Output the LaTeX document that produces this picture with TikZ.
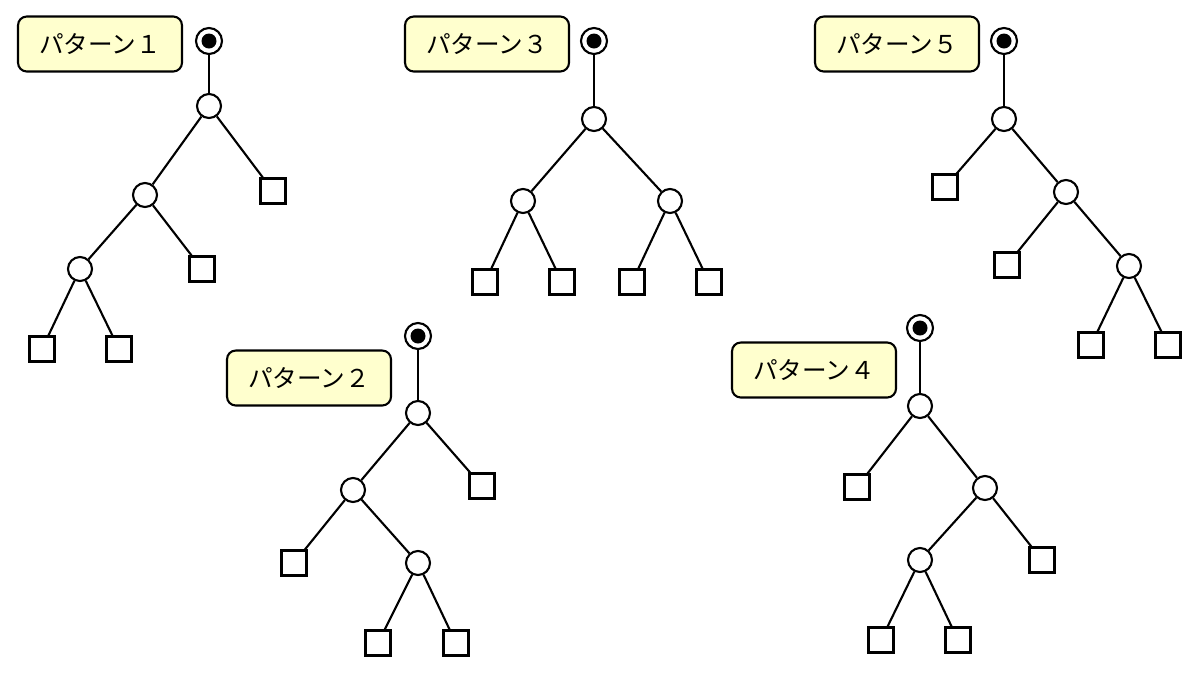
\documentclass[tikz,border=0pt]{standalone}
\usepackage{fontspec}
\setmainfont{Noto Sans CJK JP}
\definecolor{notefill}{RGB}{255,255,206}

\begin{document}
\begin{tikzpicture}[
        x=0.02cm, y=-0.02cm,
        every path/.style={line width=1.2pt},
        inner/.style={circle, draw, fill=white, minimum size=0.48cm, inner sep=0pt},
        leaf/.style={rectangle, draw, fill=white, minimum size=0.5cm, inner sep=0pt},
        root/.style={circle, draw, fill=white, minimum size=0.52cm, inner sep=0pt,
            path picture={\fill[black] (path picture bounding box.center) circle (0.15cm);}},
        pattern/.style={rectangle, draw, fill=notefill, rounded corners=5pt, line width=1.2pt,
            minimum width=3.28cm, minimum height=1.1cm, font=\fontsize{14pt}{16pt}\selectfont}
    ]
    \useasboundingbox (0,0) rectangle (1200,674);

    % pattern 1
    \node (label1) [pattern] at (100,44) {パターン１};
    \node (root1) [root] at (209,41) {};
    \node (a1) [inner] at (209,106) {};
    \node (b1) [inner] at (145,195) {};
    \node (c1) [leaf] at (273,191) {};
    \node (d1) [inner] at (80,269) {};
    \node (e1) [leaf] at (202,269) {};
    \node (f1) [leaf] at (42,349) {};
    \node (g1) [leaf] at (119,349) {};
    \draw (root1) -- (a1);
    \draw (a1) -- (b1);
    \draw (a1) -- (c1);
    \draw (b1) -- (d1);
    \draw (b1) -- (e1);
    \draw (d1) -- (f1);
    \draw (d1) -- (g1);

    % pattern 3
    \node (label3) [pattern] at (487,44) {パターン３};
    \node (root3) [root] at (594,41) {};
    \node (a3) [inner] at (594,119) {};
    \node (b3) [inner] at (523,201) {};
    \node (c3) [inner] at (670,201) {};
    \node (d3) [leaf] at (485,282) {};
    \node (e3) [leaf] at (562,282) {};
    \node (f3) [leaf] at (632,282) {};
    \node (g3) [leaf] at (709,282) {};
    \draw (root3) -- (a3);
    \draw (a3) -- (b3);
    \draw (a3) -- (c3);
    \draw (b3) -- (d3);
    \draw (b3) -- (e3);
    \draw (c3) -- (f3);
    \draw (c3) -- (g3);

    % pattern 5
    \node (label5) [pattern] at (897,44) {パターン５};
    \node (root5) [root] at (1004,41) {};
    \node (a5) [inner] at (1004,119) {};
    \node (b5) [leaf] at (945,187) {};
    \node (c5) [inner] at (1066,192) {};
    \node (d5) [leaf] at (1007,265) {};
    \node (e5) [inner] at (1129,266) {};
    \node (f5) [leaf] at (1091,345) {};
    \node (g5) [leaf] at (1168,345) {};
    \draw (root5) -- (a5);
    \draw (a5) -- (b5);
    \draw (a5) -- (c5);
    \draw (c5) -- (d5);
    \draw (c5) -- (e5);
    \draw (e5) -- (f5);
    \draw (e5) -- (g5);

    % pattern 2
    \node (label2) [pattern] at (309,378) {パターン２};
    \node (root2) [root] at (418,336) {};
    \node (a2) [inner] at (418,413) {};
    \node (b2) [inner] at (353,490) {};
    \node (c2) [leaf] at (482,486) {};
    \node (d2) [leaf] at (294,563) {};
    \node (e2) [inner] at (418,563) {};
    \node (f2) [leaf] at (378,643) {};
    \node (g2) [leaf] at (456,643) {};
    \draw (root2) -- (a2);
    \draw (a2) -- (b2);
    \draw (a2) -- (c2);
    \draw (b2) -- (d2);
    \draw (b2) -- (e2);
    \draw (e2) -- (f2);
    \draw (e2) -- (g2);

    % pattern 4
    \node (label4) [pattern] at (814,370) {パターン４};
    \node (root4) [root] at (920,328) {};
    \node (a4) [inner] at (920,406) {};
    \node (b4) [leaf] at (857,487) {};
    \node (c4) [inner] at (985,488) {};
    \node (d4) [inner] at (920,560) {};
    \node (e4) [leaf] at (1042,560) {};
    \node (f4) [leaf] at (881,640) {};
    \node (g4) [leaf] at (958,640) {};
    \draw (root4) -- (a4);
    \draw (a4) -- (b4);
    \draw (a4) -- (c4);
    \draw (c4) -- (d4);
    \draw (c4) -- (e4);
    \draw (d4) -- (f4);
    \draw (d4) -- (g4);
\end{tikzpicture}
\end{document}
